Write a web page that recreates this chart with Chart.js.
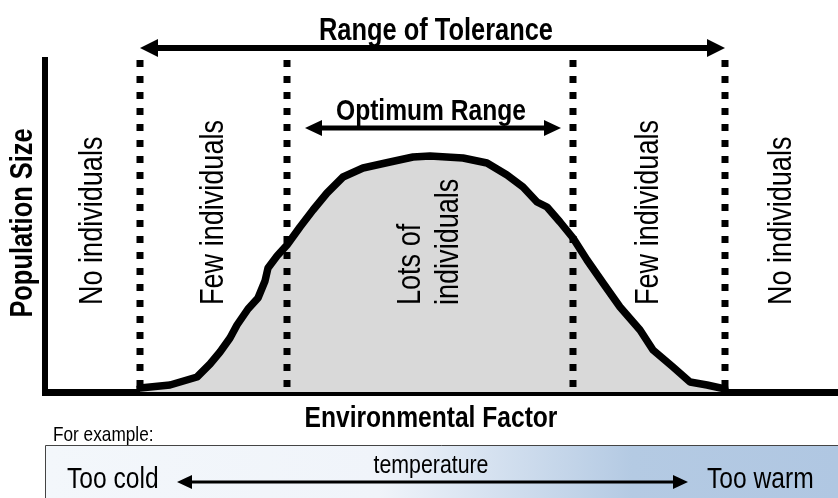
<!DOCTYPE html>
<html>
<head>
<meta charset="utf-8">
<script src="https://cdn.jsdelivr.net/npm/chart.js@4.4.1/dist/chart.umd.min.js"></script>
<style>
  html, body { margin: 0; padding: 0; background: #fff; }
  #wrap { width: 838px; height: 498px; }
</style>
</head>
<body>
<div id="wrap"><canvas id="chart" width="838" height="498"></canvas></div>
<script>
// curve of population size along the environmental factor
const factorX = [95, 125, 152, 165, 175, 185, 192, 203, 213, 220, 223, 232, 242, 255, 268, 282, 298, 318, 345, 368, 385,
  418, 442, 462, 478, 492, 502, 515, 528, 542, 558, 575, 595, 608, 628, 645, 662, 680];
const populationY = [4, 7, 15, 28, 40, 54, 67, 83, 94, 111, 124, 136, 147, 165, 182, 199, 215, 224, 230, 235, 236,
  234, 229, 217, 205, 190, 185, 170, 154, 132, 109, 85, 62, 42, 25, 10, 7, 3];

// limits of tolerance / optimum zones (dotted lines)
const zoneEdges = [95, 242, 528, 680];
const optimumRange = [260, 516];
const zoneLabels = [
  ['No individuals'],
  ['Few individuals'],
  ['Lots of', 'individuals'],
  ['Few individuals'],
  ['No individuals']
];

const xMax = 793;
const yMax = 332;

const FONT = '"Liberation Sans", Arial, sans-serif';

// narrow text like Arial Narrow
function drawText(ctx, str, x, y, size, bold, align, rotate) {
  ctx.save();
  ctx.translate(x, y);
  if (rotate) ctx.rotate(-Math.PI / 2);
  ctx.scale(0.82, 1);
  ctx.font = (bold ? 'bold ' : '') + size + 'px ' + FONT;
  ctx.textAlign = align;
  ctx.textBaseline = rotate ? 'middle' : 'alphabetic';
  ctx.fillStyle = '#000';
  ctx.fillText(str, 0, 0);
  ctx.restore();
}

function doubleArrow(ctx, x1, x2, y, lw, len, half) {
  ctx.save();
  ctx.fillStyle = '#000';
  ctx.strokeStyle = '#000';
  ctx.lineWidth = lw;
  ctx.beginPath();
  ctx.moveTo(x1 + len - 2, y);
  ctx.lineTo(x2 - len + 2, y);
  ctx.stroke();
  ctx.beginPath();
  ctx.moveTo(x1, y);
  ctx.lineTo(x1 + len, y - half);
  ctx.lineTo(x1 + len, y + half);
  ctx.closePath();
  ctx.fill();
  ctx.beginPath();
  ctx.moveTo(x2, y);
  ctx.lineTo(x2 - len, y - half);
  ctx.lineTo(x2 - len, y + half);
  ctx.closePath();
  ctx.fill();
  ctx.restore();
}

const diagramPlugin = {
  id: 'diagram',
  beforeDraw(chart) {
    const ctx = chart.ctx;
    // "For example" temperature strip
    const left = 45, top = 445, right = 838, bottom = 498;
    const grad = ctx.createLinearGradient(left, 0, right, 0);
    grad.addColorStop(0, '#f3f7fb');
    grad.addColorStop(0.42, '#f0f4fa');
    grad.addColorStop(0.74, '#b4cae3');
    grad.addColorStop(1, '#b0c7e2');
    ctx.save();
    ctx.fillStyle = grad;
    ctx.fillRect(left, top, right - left, bottom - top);
    ctx.strokeStyle = '#444';
    ctx.lineWidth = 1;
    ctx.beginPath();
    ctx.moveTo(left + 0.5, bottom);
    ctx.lineTo(left + 0.5, top + 0.5);
    ctx.lineTo(right, top + 0.5);
    ctx.stroke();
    ctx.restore();
  },
  afterDraw(chart) {
    const ctx = chart.ctx;
    const xs = chart.scales.x;
    const area = chart.chartArea;
    const px = v => xs.getPixelForValue(v);

    // range arrows
    doubleArrow(ctx, px(zoneEdges[0]), px(zoneEdges[3]), 48, 6, 18, 9);
    doubleArrow(ctx, px(optimumRange[0]), px(optimumRange[1]), 128, 5, 17, 8);
    drawText(ctx, 'Range of Tolerance', 436, 40, 31, true, 'center');
    drawText(ctx, 'Optimum Range', 431, 120, 30, true, 'center');

    // zone labels, read bottom to top
    const bounds = [0].concat(zoneEdges, [xMax]);
    zoneLabels.forEach((lines, i) => {
      const mid = (px(bounds[i]) + px(bounds[i + 1])) / 2;
      lines.forEach((line, j) => {
        const x = mid + (j - (lines.length - 1) / 2) * 38;
        drawText(ctx, line, x, area.bottom - 87, 33, false, 'left', true);
      });
    });

    // axis titles
    drawText(ctx, 'Population Size', 23, 223, 31, true, 'center', true);
    drawText(ctx, 'Environmental Factor', 431, 427, 30, true, 'center');

    // example strip text
    drawText(ctx, 'For example:', 53, 441, 21, false, 'left');
    drawText(ctx, 'Too cold', 67, 488, 30, false, 'left');
    drawText(ctx, 'temperature', 431, 473, 26, false, 'center');
    drawText(ctx, 'Too warm', 707, 488, 30, false, 'left');
    doubleArrow(ctx, 177, 688, 482, 3, 15, 7);
  }
};

const curve = factorX.map((x, i) => ({ x: x, y: populationY[i] }));

const dotted = zoneEdges.map(e => ({
  data: [{ x: e, y: yMax }, { x: e, y: 4 }],
  borderColor: '#000',
  borderWidth: 7,
  borderDash: [7, 9],
  borderCapStyle: 'butt',
  pointRadius: 0,
  fill: false
}));

new Chart(document.getElementById('chart'), {
  type: 'line',
  data: {
    datasets: [{
      data: curve,
      borderColor: '#000',
      borderWidth: 7.5,
      borderJoinStyle: 'round',
      borderCapStyle: 'round',
      backgroundColor: '#d9d9d9',
      fill: 'origin',
      tension: 0,
      pointRadius: 0
    }].concat(dotted)
  },
  options: {
    responsive: false,
    animation: false,
    events: [],
    layout: { padding: { left: 45, right: 0, top: 60, bottom: 106 } },
    plugins: {
      legend: { display: false },
      tooltip: { enabled: false },
      filler: { drawTime: 'beforeDatasetsDraw' }
    },
    scales: {
      x: {
        type: 'linear',
        min: 0,
        max: xMax,
        grid: { display: false, drawTicks: false },
        ticks: { display: false },
        border: { display: true, color: '#000', width: 7 },
        afterFit: s => { s.height = 0; }
      },
      y: {
        min: 0,
        max: yMax,
        grid: { display: false, drawTicks: false },
        ticks: { display: false },
        border: { display: true, color: '#000', width: 6 },
        afterFit: s => { s.width = 0; }
      }
    }
  },
  plugins: [diagramPlugin]
});
</script>
</body>
</html>
